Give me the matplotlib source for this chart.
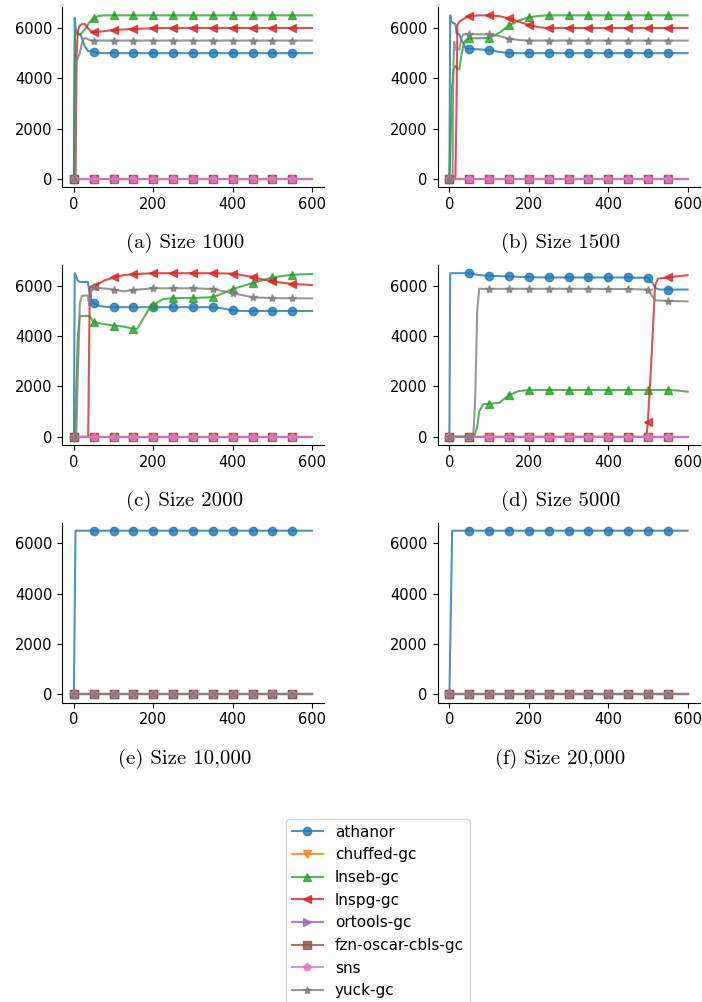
import matplotlib.pyplot as plt

# solver names, in legend order
solvers = ['athanor', 'chuffed-gc', 'lnseb-gc', 'lnspg-gc', 'ortools-gc',
           'fzn-oscar-cbls-gc', 'sns', 'yuck-gc']
markers = ['o', 'v', '^', '<', '>', 's', 'p', '*']
captions = ['(a) Size 1000', '(b) Size 1500', '(c) Size 2000',
            '(d) Size 5000', '(e) Size 10,000', '(f) Size 20,000']

# (time, objective) pairs
flat_zero = [(0, 0), (50, 0), (100, 0), (150, 0), (200, 0), (250, 0), (300, 0),
             (350, 0), (400, 0), (450, 0), (500, 0), (550, 0), (600, 0)]

a_athanor = [(0, 0), (2, 6400), (5, 5900), (10, 5800), (18, 5700), (22, 5500), (28, 5250),
             (35, 5100), (50, 5050), (60, 5010), (75, 5000), (100, 5000), (150, 5000),
             (200, 5000), (250, 5000), (300, 5000), (350, 5000), (400, 5000), (450, 5000),
             (500, 5000), (550, 5000), (600, 5000)]
a_lnseb = [(0, 0), (3, 5700), (6, 5800), (10, 5750), (15, 5750), (20, 5800), (25, 5900),
           (30, 6000), (40, 6250), (50, 6380), (60, 6470), (75, 6500), (100, 6500),
           (150, 6500), (200, 6500), (250, 6500), (300, 6500), (350, 6500), (400, 6500),
           (450, 6500), (500, 6500), (550, 6500), (600, 6500)]
a_lnspg = [(0, 0), (4, 0), (7, 5000), (10, 5900), (15, 6100), (20, 6150), (28, 6150),
           (35, 6000), (42, 5880), (50, 5830), (75, 5870), (100, 5920), (150, 5960),
           (200, 5990), (250, 6000), (300, 6000), (350, 6000), (400, 6000), (450, 6000),
           (500, 6000), (550, 6000), (600, 6000)]
a_yuck = [(0, 0), (3, 0), (5, 4700), (10, 4800), (15, 5000), (20, 5400), (25, 5580),
          (30, 5600), (40, 5520), (50, 5500), (100, 5500), (150, 5500), (200, 5500),
          (250, 5500), (300, 5500), (350, 5500), (400, 5500), (450, 5500), (500, 5500),
          (550, 5500), (600, 5500)]

b_athanor = [(0, 0), (2, 6500), (5, 6250), (10, 6200), (15, 6150), (18, 5800), (25, 5750),
             (30, 5550), (40, 5220), (50, 5170), (75, 5150), (100, 5120), (125, 5050),
             (150, 5000), (200, 5000), (250, 5000), (300, 5000), (350, 5000), (400, 5000),
             (450, 5000), (500, 5000), (550, 5000), (600, 5000)]
b_lnseb = [(0, 0), (3, 1500), (6, 3500), (10, 4300), (15, 4500), (20, 4400), (25, 4350),
           (30, 4900), (35, 5300), (40, 5500), (50, 5590), (75, 5590), (100, 5600),
           (125, 5800), (150, 6100), (175, 6300), (200, 6420), (225, 6480), (250, 6500),
           (300, 6500), (350, 6500), (400, 6500), (450, 6500), (500, 6500), (550, 6500),
           (600, 6500)]
b_lnspg = [(0, 0), (15, 0), (18, 3000), (20, 6100), (25, 6250), (30, 6300), (40, 6400),
           (50, 6470), (75, 6500), (100, 6500), (125, 6470), (150, 6380), (175, 6250),
           (200, 6120), (225, 6030), (250, 6000), (300, 6000), (350, 6000), (400, 6000),
           (450, 6000), (500, 6000), (550, 6000), (600, 6000)]
b_yuck = [(0, 0), (8, 0), (10, 4500), (12, 5450), (15, 5150), (25, 5150), (30, 5600),
          (35, 5750), (50, 5750), (100, 5750), (125, 5680), (150, 5580), (175, 5520),
          (200, 5500), (250, 5500), (300, 5500), (350, 5500), (400, 5500), (450, 5500),
          (500, 5500), (550, 5500), (600, 5500)]

c_athanor = [(0, 0), (2, 6500), (5, 6400), (10, 6200), (15, 6150), (35, 6150), (40, 5700),
             (45, 5400), (50, 5300), (60, 5220), (75, 5170), (100, 5150), (150, 5150),
             (200, 5150), (250, 5150), (300, 5150), (350, 5150), (375, 5100), (400, 5020),
             (425, 5000), (450, 5000), (500, 5000), (550, 5000), (600, 5000)]
c_lnseb = [(0, 0), (3, 0), (6, 2000), (10, 4000), (15, 4800), (40, 4800), (45, 4650),
           (50, 4550), (75, 4480), (100, 4420), (125, 4380), (150, 4290), (160, 4300),
           (175, 4700), (190, 5100), (200, 5250), (225, 5470), (250, 5510), (300, 5510),
           (350, 5550), (375, 5700), (400, 5870), (450, 6110), (500, 6330), (550, 6440),
           (600, 6470)]
c_lnspg = [(0, 0), (36, 0), (38, 3000), (40, 5950), (50, 6000), (60, 6050), (75, 6200),
           (100, 6330), (125, 6420), (150, 6460), (200, 6500), (250, 6500), (300, 6500),
           (350, 6500), (400, 6480), (425, 6420), (450, 6350), (475, 6250), (500, 6170),
           (550, 6070), (600, 6030)]
c_yuck = [(0, 0), (6, 0), (10, 2500), (15, 5300), (20, 5600), (35, 5620), (38, 5250),
          (42, 5600), (45, 5850), (50, 5950), (60, 5920), (100, 5850), (125, 5780),
          (150, 5830), (200, 5900), (250, 5900), (300, 5900), (350, 5870), (400, 5710),
          (450, 5540), (500, 5510), (550, 5500), (600, 5500)]

d_athanor = [(0, 0), (2, 6500), (50, 6500), (75, 6420), (100, 6400), (150, 6370),
             (200, 6340), (250, 6330), (300, 6330), (350, 6330), (400, 6330), (450, 6330),
             (500, 6310), (510, 6150), (520, 5900), (530, 5850), (550, 5850), (600, 5850)]
d_lnseb = [(0, 0), (50, 0), (62, 0), (70, 400), (75, 1000), (85, 1300), (100, 1310),
           (125, 1350), (150, 1650), (175, 1820), (200, 1860), (250, 1860), (300, 1860),
           (350, 1860), (400, 1860), (450, 1860), (500, 1860), (550, 1860), (575, 1840),
           (600, 1790)]
d_lnspg = [(0, 0), (50, 0), (100, 0), (150, 0), (200, 0), (250, 0), (300, 0), (350, 0),
           (400, 0), (450, 0), (490, 0), (497, 100), (500, 600), (510, 3400), (518, 6000),
           (525, 6280), (550, 6330), (600, 6420)]
d_yuck = [(0, 0), (50, 0), (60, 0), (65, 1500), (70, 5000), (75, 5880), (100, 5880),
          (150, 5880), (200, 5880), (250, 5880), (300, 5880), (350, 5880), (400, 5870),
          (450, 5870), (500, 5850), (510, 5600), (520, 5420), (550, 5400), (600, 5380)]

e_athanor = [(0, 0), (4, 6500), (50, 6500), (100, 6500), (150, 6500), (200, 6500),
             (250, 6500), (300, 6500), (350, 6500), (400, 6500), (450, 6500), (500, 6500),
             (550, 6500), (600, 6500)]
f_athanor = [(0, 0), (7, 6500), (50, 6500), (100, 6500), (150, 6500), (200, 6500),
             (250, 6500), (300, 6500), (350, 6500), (400, 6500), (450, 6500), (500, 6500),
             (550, 6500), (600, 6500)]

panels = [
    [a_athanor, flat_zero, a_lnseb, a_lnspg, flat_zero, flat_zero, flat_zero, a_yuck],
    [b_athanor, flat_zero, b_lnseb, b_lnspg, flat_zero, flat_zero, flat_zero, b_yuck],
    [c_athanor, flat_zero, c_lnseb, c_lnspg, flat_zero, flat_zero, flat_zero, c_yuck],
    [d_athanor, flat_zero, d_lnseb, d_lnspg, flat_zero, flat_zero, flat_zero, d_yuck],
    [e_athanor, flat_zero, flat_zero, flat_zero, flat_zero, flat_zero, flat_zero, flat_zero],
    [f_athanor, flat_zero, flat_zero, flat_zero, flat_zero, flat_zero, flat_zero, flat_zero],
]

W, H = 702, 1002
fig = plt.figure(figsize=(W / 100, H / 100), dpi=100)

lefts = [62, 437.5]
tops = [7.2, 265, 522.5]
axw, axh = 262, 180

for i, series in enumerate(panels):
    left = lefts[i % 2]
    top = tops[i // 2]
    ax = fig.add_axes([left / W, 1 - (top + axh) / H, axw / W, axh / H])
    for k, pts in enumerate(series):
        t = [p[0] for p in pts]
        y = [p[1] for p in pts]
        every = [j for j, x in enumerate(t) if x % 50 == 0 and x < 600]
        ax.plot(t, y, marker=markers[k], markevery=every, color=f'C{k}',
                alpha=0.8, label=solvers[k])
    ax.set_xticks([0, 200, 400, 600])
    ax.set_yticks([0, 2000, 4000, 6000])
    ax.tick_params(labelsize=10.5)
    ax.spines['top'].set_visible(False)
    ax.spines['right'].set_visible(False)
    cx = left + axw / 2 - 8
    fig.text(cx / W, 1 - (top + 236) / H, captions[i], ha='center', va='center',
             fontfamily='cmr10', fontsize=15)
    if i == 0:
        handles, labels = ax.get_legend_handles_labels()

fig.legend(handles, labels, loc='upper center', bbox_to_anchor=(378 / W, 1 - 811 / H),
           fontsize=11)

fig.savefig('out.png', dpi=100)
